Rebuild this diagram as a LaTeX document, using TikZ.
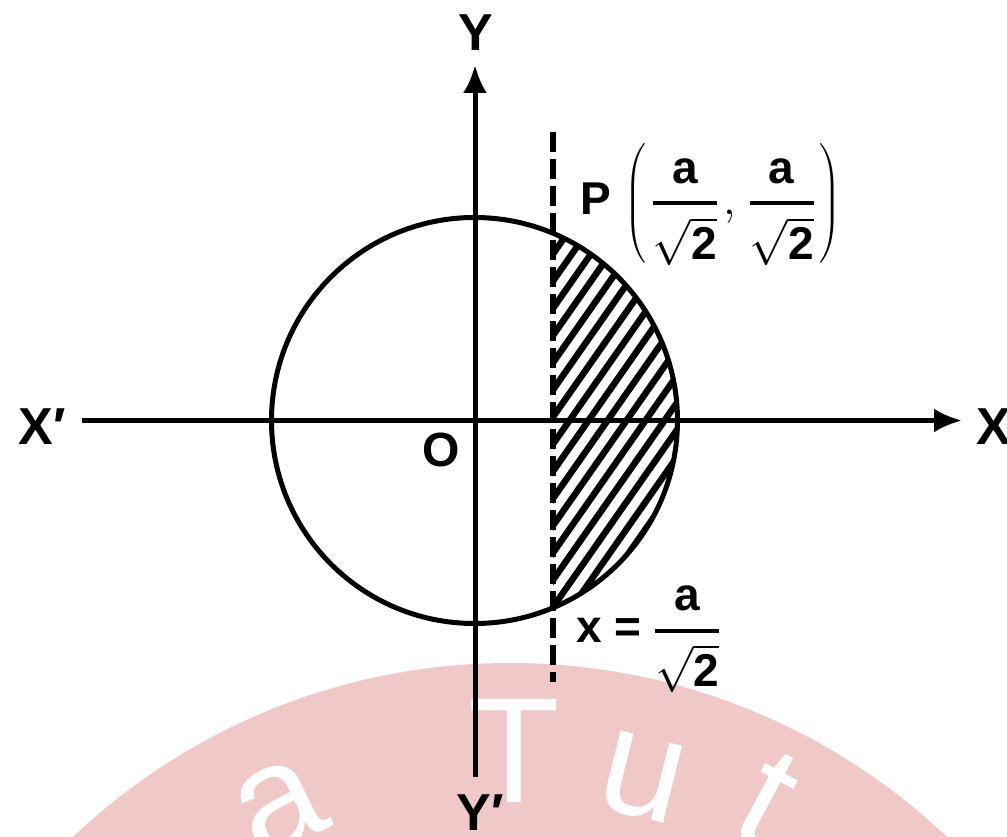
\RequirePackage{fix-cm}
\documentclass[tikz,border=0pt]{standalone}
\usepackage{amsmath}
\usepackage{fontspec}
\setmainfont{Liberation Sans}
\usetikzlibrary{arrows.meta}
\definecolor{wmpink}{RGB}{241,200,200}
\begin{document}
\begin{tikzpicture}[x=1pt,y=-1pt,
  axis/.style={line width=5pt,-{Latex[length=28pt,width=24pt]}},
  curve/.style={line width=5pt},
  hatch/.style={line width=6.5pt},
  dashline/.style={line width=5.5pt,dash pattern=on 20pt off 7pt},
  lab/.style={inner sep=0pt,font=\fontsize{52}{60}\selectfont\bfseries},
  mlab/.style={inner sep=0pt,font=\fontsize{46}{54}\selectfont\bfseries},
  wm/.style={inner sep=0pt,text=white,font=\fontsize{150}{160}\selectfont}]
\useasboundingbox (0,0) rectangle (1007,837);
\fill[white] (0,0) rectangle (1007,837);
% watermark
\begin{scope}
\clip (0,0) rectangle (1007,837);
\fill[wmpink] (510,1299) circle[radius=636pt];
\end{scope}
\node[wm] (wT) at (514,751) {T};
\node[wm,rotate=-14] (wu) at (642,778) {u};
\node[wm,rotate=-28] (wt) at (767,800) {t};
\node[wm,rotate=26] (wa) at (280,808) {a};
% geometry
\coordinate (O) at (474.5,420.5);
\coordinate (xl) at (82,420.5);
\coordinate (xr) at (962,420.5);
\coordinate (yt) at (475,65);
\coordinate (yb) at (475,777);
\coordinate (dt) at (553,132);
\coordinate (db) at (553,682);
% hatching
\begin{scope}
\clip (O) circle[radius=203pt];
\clip (553,200) rectangle (700,650);
\foreach \sx in {200,219,...,720} {
  \draw[hatch] (\sx,650) -- ++(321,-459);
}
\end{scope}
\draw[curve] (O) circle[radius=203pt];
\draw[dashline] (dt) -- (db);
\draw[axis] (xl) -- (xr);
\draw[axis] (yb) -- (yt);
% labels
\node[lab] (Y) at (476,33) {Y};
\node[lab] (Yp) at (480,813) {Y\char"2032};
\node[lab] (Xp) at (42,427) {X\char"2032};
\node[lab,anchor=west] (X) at (976,427) {X};
\node[lab,font=\fontsize{48}{54}\selectfont\bfseries] (Olab) at (441,450) {O};
\node[mlab,anchor=base west] (P) at (580,215)
  {P\hspace{14pt}$\left(\mkern2mu\genfrac{}{}{4pt}{0}{\mbox{a}}{\sqrt{\mbox{2}}}\mkern2mu,\mkern2mu\genfrac{}{}{4pt}{0}{\mbox{a}}{\sqrt{\mbox{2}}}\mkern2mu\right)$};
\node[mlab,anchor=base west] (xeq) at (576,642)
  {$\mbox{x}\mathrel{\mbox{=}}\genfrac{}{}{4pt}{0}{\mbox{a}}{\sqrt{\mbox{2}}}$};
\end{tikzpicture}
\end{document}
